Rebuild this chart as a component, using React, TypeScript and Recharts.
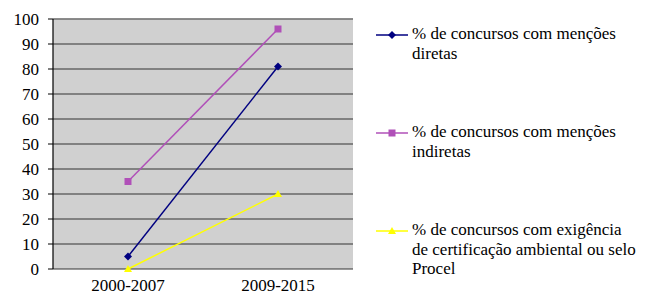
import React from "react";
import {
  LineChart,
  Line,
  XAxis,
  YAxis,
  CartesianGrid,
  ReferenceLine,
} from "recharts";

const categories = ["2000-2007", "2009-2015"];
const mencoesDiretas = [5, 81];
const mencoesIndiretas = [35, 96];
const certificacao = [0, 30];
const yTicks = [0, 10, 20, 30, 40, 50, 60, 70, 80, 90, 100];
const boundaryTicks = [0, 1, 2];

const seriesNames = [
  "% de concursos com menções diretas",
  "% de concursos com menções indiretas",
  "% de concursos com exigência de certificação ambiental ou selo Procel",
];
const seriesColors = ["#000080", "#b050b8", "#ffff00"];

const data = categories.map((c, i) => ({
  cat: c,
  d: mencoesDiretas[i],
  ind: mencoesIndiretas[i],
  cert: certificacao[i],
}));

const FONT = "Liberation Serif";
const FS = 17;

const Diamond = (props: any) => {
  const { cx, cy, fill } = props;
  if (cx == null || cy == null) return null;
  return (
    <polygon
      points={`${cx},${cy - 4} ${cx + 4},${cy} ${cx},${cy + 4} ${cx - 4},${cy}`}
      fill={fill}
    />
  );
};
const Square = (props: any) => {
  const { cx, cy, fill } = props;
  if (cx == null || cy == null) return null;
  return <rect x={cx - 3.5} y={cy - 3.5} width={7} height={7} fill={fill} />;
};
const Triangle = (props: any) => {
  const { cx, cy, fill } = props;
  if (cx == null || cy == null) return null;
  return (
    <polygon
      points={`${cx},${cy - 4} ${cx + 4},${cy + 3} ${cx - 4},${cy + 3}`}
      fill={fill}
    />
  );
};

const markerFor = (i: number, color: string) => {
  if (i === 0) return <Diamond cx={16} cy={5} fill={color} />;
  if (i === 1) return <Square cx={16} cy={5} fill={color} />;
  return <Triangle cx={16} cy={5} fill={color} />;
};

const LegendBox = () => (
  <div
    style={{
      position: "absolute",
      left: 376,
      top: 25,
      width: 270,
      fontFamily: FONT,
      fontSize: FS,
      color: "#000",
    }}
  >
    {seriesNames.map((name, i) => (
      <div
        key={name}
        style={{
          display: "flex",
          alignItems: "flex-start",
          height: i < 2 ? 98 : 60,
        }}
      >
        <svg width={32} height={10} style={{ marginTop: 5, flex: "none" }}>
          <line x1={0} y1={5} x2={32} y2={5} stroke={seriesColors[i]} strokeWidth={1.5} />
          {markerFor(i, seriesColors[i])}
        </svg>
        <div style={{ marginLeft: 4, marginTop: -1, lineHeight: "19.5px", width: 226 }}>{name}</div>
      </div>
    ))}
  </div>
);

export default function App() {
  return (
    <div style={{ position: "absolute", left: 0, top: 0, width: 650, height: 296 }}>
      <LineChart
        width={650}
        height={296}
        data={data}
        margin={{ top: 19, right: 297, bottom: 0, left: 0 }}
      >
        <CartesianGrid
          vertical={false}
          fill="#d0d0d0"
          stroke="#333333"
          strokeWidth={1.2}
          xAxisId="grid"
        />
        <XAxis
          xAxisId="grid"
          type="number"
          domain={[0, 2]}
          ticks={boundaryTicks}
          height={0}
          tickSize={5}
          tickLine={{ stroke: "#000" }}
          axisLine={{ stroke: "#222", strokeWidth: 1.5 }}
          tickFormatter={() => ""}
        />
        <XAxis
          xAxisId="cat"
          dataKey="cat"
          height={27}
          padding={{ left: 75, right: 75 }}
          tickSize={0}
          tickMargin={10}
          axisLine={false}
          tickLine={false}
          tick={{ fill: "#000", fontSize: FS, fontFamily: FONT }}
        />
        <YAxis
          width={53}
          domain={[0, 100]}
          ticks={yTicks}
          tickSize={5}
          tickMargin={9}
          interval={0}
          axisLine={{ stroke: "#000", strokeWidth: 1.2 }}
          tickLine={{ stroke: "#000" }}
          tick={{ fill: "#000", fontSize: FS, fontFamily: FONT }}
        />
        <ReferenceLine y={100} xAxisId="cat" stroke="#888888" strokeWidth={1.5} />
        <ReferenceLine x={2} xAxisId="grid" stroke="#888888" strokeWidth={1.5} />
        <Line
          xAxisId="cat"
          dataKey="d"
          name={seriesNames[0]}
          stroke={seriesColors[0]}
          strokeWidth={1.5}
          dot={<Diamond fill={seriesColors[0]} />}
          isAnimationActive={false}
        />
        <Line
          xAxisId="cat"
          dataKey="ind"
          name={seriesNames[1]}
          stroke={seriesColors[1]}
          strokeWidth={1.5}
          dot={<Square fill={seriesColors[1]} />}
          isAnimationActive={false}
        />
        <Line
          xAxisId="cat"
          dataKey="cert"
          name={seriesNames[2]}
          stroke={seriesColors[2]}
          strokeWidth={1.5}
          dot={<Triangle fill={seriesColors[2]} />}
          isAnimationActive={false}
        />
      </LineChart>
      <LegendBox />
    </div>
  );
}
